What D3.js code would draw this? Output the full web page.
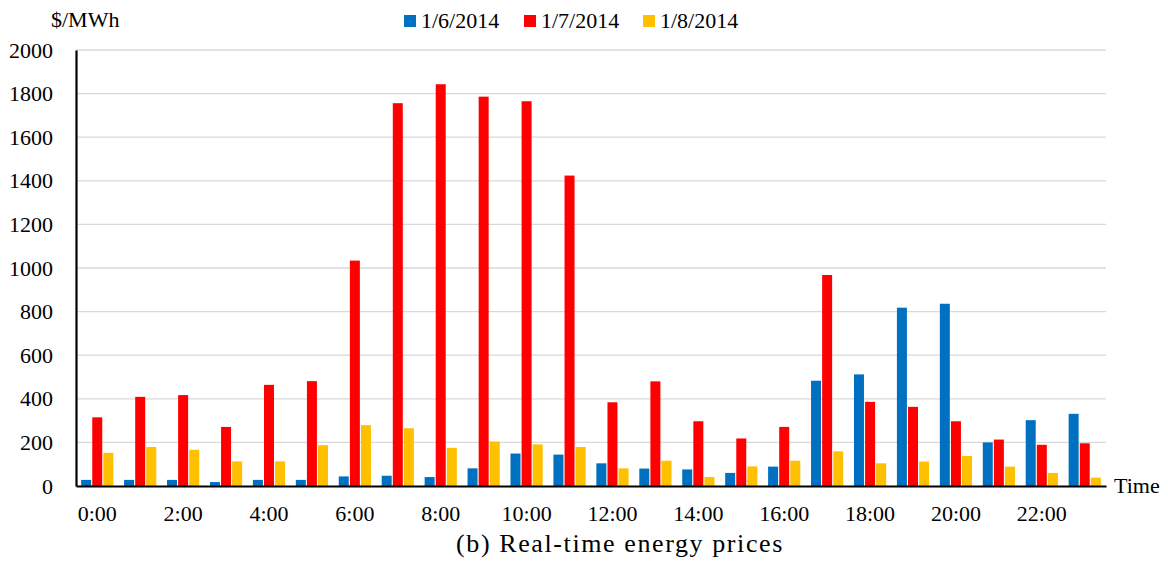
<!DOCTYPE html>
<html>
<head>
<meta charset="utf-8">
<script src="https://cdn.jsdelivr.net/npm/d3@7"></script>
<style>
  body { margin: 0; background: #fff; }
  text { font-family: "Liberation Serif", "Times New Roman", serif; fill: #000; }
</style>
</head>
<body>
<div id="vis"></div>
<script>
const FRAME_WIDTH = 1168;
const FRAME_HEIGHT = 568;
const MARGINS = {left: 76, right: 62, top: 50, bottom: 82};

// data
const hours = d3.range(24).map(h => h + ":00");
const seriesNames = ["1/6/2014", "1/7/2014", "1/8/2014"];
const price0106 = [28, 28, 28, 18, 28, 28, 44, 47, 41, 81, 149, 144, 104, 80, 76, 60, 89, 483, 512, 818, 836, 200, 302, 331];
const price0107 = [315, 409, 417, 271, 464, 481, 1034, 1756, 1843, 1786, 1765, 1424, 384, 480, 297, 218, 271, 968, 386, 363, 297, 213, 189, 196];
const price0108 = [152, 179, 166, 113, 113, 187, 279, 265, 175, 204, 191, 179, 81, 116, 41, 90, 116, 159, 104, 112, 138, 89, 60, 38];
const yTicks = [0, 200, 400, 600, 800, 1000, 1200, 1400, 1600, 1800, 2000];
const COLORS = ["#0070C0", "#FF0000", "#FFC000"];

const VIS_WIDTH = FRAME_WIDTH - MARGINS.left - MARGINS.right;
const VIS_HEIGHT = FRAME_HEIGHT - MARGINS.top - MARGINS.bottom;

const FRAME = d3.select("#vis")
  .append("svg")
    .attr("width", FRAME_WIDTH)
    .attr("height", FRAME_HEIGHT);

const X_SCALE = d3.scaleBand()
  .domain(hours)
  .range([MARGINS.left, MARGINS.left + VIS_WIDTH])
  .paddingInner(0.25)
  .paddingOuter(0.12);

const X_SUB = d3.scaleBand()
  .domain(seriesNames)
  .range([0, X_SCALE.bandwidth()])
  .paddingInner(0.1);

const Y_SCALE = d3.scaleLinear()
  .domain([0, 2000])
  .range([MARGINS.top + VIS_HEIGHT, MARGINS.top]);

// gridlines
FRAME.append("g")
  .selectAll("line")
  .data(yTicks.slice(1))
  .enter()
  .append("line")
    .attr("x1", MARGINS.left)
    .attr("x2", MARGINS.left + VIS_WIDTH)
    .attr("y1", d => Y_SCALE(d))
    .attr("y2", d => Y_SCALE(d))
    .attr("stroke", "#d9d9d9")
    .attr("stroke-width", 1.3);

// bars
const rows = hours.map((h, i) => ({hour: h, vals: [price0106[i], price0107[i], price0108[i]]}));

FRAME.append("g")
  .selectAll("g")
  .data(rows)
  .enter()
  .append("g")
    .attr("transform", d => "translate(" + X_SCALE(d.hour) + ",0)")
  .selectAll("rect")
  .data(d => d.vals.map((v, k) => ({name: seriesNames[k], v: v, k: k})))
  .enter()
  .append("rect")
    .attr("x", d => X_SUB(d.name))
    .attr("width", X_SUB.bandwidth())
    .attr("y", d => Y_SCALE(d.v))
    .attr("height", d => Y_SCALE(0) - Y_SCALE(d.v))
    .attr("fill", d => COLORS[d.k]);

// y axis
const yAxis = FRAME.append("g")
  .attr("transform", "translate(" + MARGINS.left + ",0)")
  .call(d3.axisLeft(Y_SCALE).tickValues(yTicks).tickFormat(d3.format("d")).tickSize(0).tickPadding(23));
yAxis.attr("font-family", null);
yAxis.select(".domain").attr("stroke", "#000").attr("stroke-width", 2.2);
yAxis.selectAll("text").attr("font-size", "22px");

// x axis
const xAxis = FRAME.append("g")
  .attr("transform", "translate(0," + (MARGINS.top + VIS_HEIGHT) + ")")
  .call(d3.axisBottom(X_SCALE).tickValues(hours.filter((h, i) => i % 2 === 0)).tickSize(0).tickPadding(19));
xAxis.attr("font-family", null);
xAxis.select(".domain").attr("stroke", "#000").attr("stroke-width", 2.2);
xAxis.selectAll("text").attr("font-size", "22px");

// axis titles
FRAME.append("text")
  .attr("x", 51)
  .attr("y", 27)
  .attr("font-size", "22px")
  .text("$/MWh");

FRAME.append("text")
  .attr("x", 1114)
  .attr("y", 493)
  .attr("font-size", "22px")
  .text("Time");

// legend
const legendX = [404, 524, 643];
const legend = FRAME.append("g")
  .selectAll("g")
  .data(seriesNames)
  .enter()
  .append("g")
    .attr("transform", (d, i) => "translate(" + legendX[i] + ",15)");
legend.append("rect")
  .attr("width", 12)
  .attr("height", 12)
  .attr("fill", (d, i) => COLORS[i]);
legend.append("text")
  .attr("x", 17)
  .attr("y", 13)
  .attr("font-size", "22px")
  .text(d => d);

// caption
FRAME.append("text")
  .attr("x", 620)
  .attr("y", 552)
  .attr("text-anchor", "middle")
  .attr("font-size", "26px")
  .attr("letter-spacing", "1.6px")
  .text("(b) Real-time energy prices");
</script>
</body>
</html>
